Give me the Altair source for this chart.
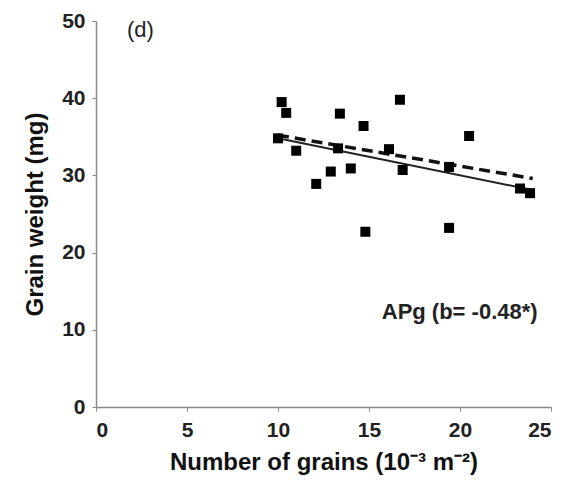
import altair as alt
import pandas as pd

# Observed grains per m² (×10⁻³) and grain weight (mg)
grains = [10.2, 10.45, 13.4, 16.7, 14.7, 20.5, 10.0, 11.0, 13.3, 16.1,
          12.9, 14.0, 16.85, 12.1, 19.4, 23.3, 23.85, 14.8, 19.4]
weight = [39.5, 38.1, 38.0, 39.8, 36.4, 35.1, 34.8, 33.2, 33.5, 33.4,
          30.5, 30.9, 30.7, 28.9, 31.1, 28.3, 27.7, 22.7, 23.2]

# Fitted regression line (b = -0.48) end points
fit_x = [10.0, 24.0]
fit_y = [34.8, 28.1]

# Reference (dashed) line end points
ref_x = [10.0, 24.0]
ref_y = [35.2, 29.6]

FONT = "Liberation Sans"

pts = pd.DataFrame({"x": grains, "y": weight})
fit = pd.DataFrame({"x": fit_x, "y": fit_y})
ref = pd.DataFrame({"x": ref_x, "y": ref_y})

axis_style = dict(
    titleFontSize=24, titleFont=FONT, titleFontWeight="bold", titleColor="#111",
    labelFontSize=21, labelFont=FONT, labelFontWeight="bold", labelColor="#222",
    tickSize=4, tickColor="#888", domainColor="#888", domainWidth=1.5,
    grid=False,
)

x_enc = alt.X(
    "x:Q",
    scale=alt.Scale(domain=[0, 25], nice=False),
    axis=alt.Axis(
        values=[0, 5, 10, 15, 20, 25],
        title="Number of grains (10⁻³ m⁻²)",
        titlePadding=10, labelPadding=8, **axis_style,
    ),
)
y_enc = alt.Y(
    "y:Q",
    scale=alt.Scale(domain=[0, 50], nice=False),
    axis=alt.Axis(
        values=[0, 10, 20, 30, 40, 50],
        title="Grain weight (mg)",
        titlePadding=14, labelPadding=7, **axis_style,
    ),
)

points = alt.Chart(pts).mark_square(size=100, color="black", opacity=1).encode(x=x_enc, y=y_enc)

fit_line = alt.Chart(fit).mark_line(color="#222", strokeWidth=2).encode(x="x:Q", y="y:Q")

ref_line = alt.Chart(ref).mark_line(
    color="#111", strokeWidth=3.5, strokeDash=[11, 6]
).encode(x="x:Q", y="y:Q")

labels = pd.DataFrame({"x": [1.7, 15.7], "y": [48.8, 12.3], "t": ["(d)", "APg (b= -0.48*)"]})
label_d = alt.Chart(labels.iloc[[0]]).mark_text(
    font=FONT, fontSize=22, align="left", color="#222"
).encode(x="x:Q", y="y:Q", text="t:N")
label_apg = alt.Chart(labels.iloc[[1]]).mark_text(
    font=FONT, fontSize=22, align="left", color="#222", fontWeight="bold"
).encode(x="x:Q", y="y:Q", text="t:N")

chart = (
    alt.layer(ref_line, fit_line, points, label_d, label_apg)
    .properties(
        width=455, height=386,
        padding={"left": 96, "top": 21, "right": 17, "bottom": 78},
        autosize=alt.AutoSizeParams(type="none"),
        background="white",
    )
    .configure_view(stroke=None)
)

chart.save("out.html", embed_options={"renderer": "svg", "actions": False})
